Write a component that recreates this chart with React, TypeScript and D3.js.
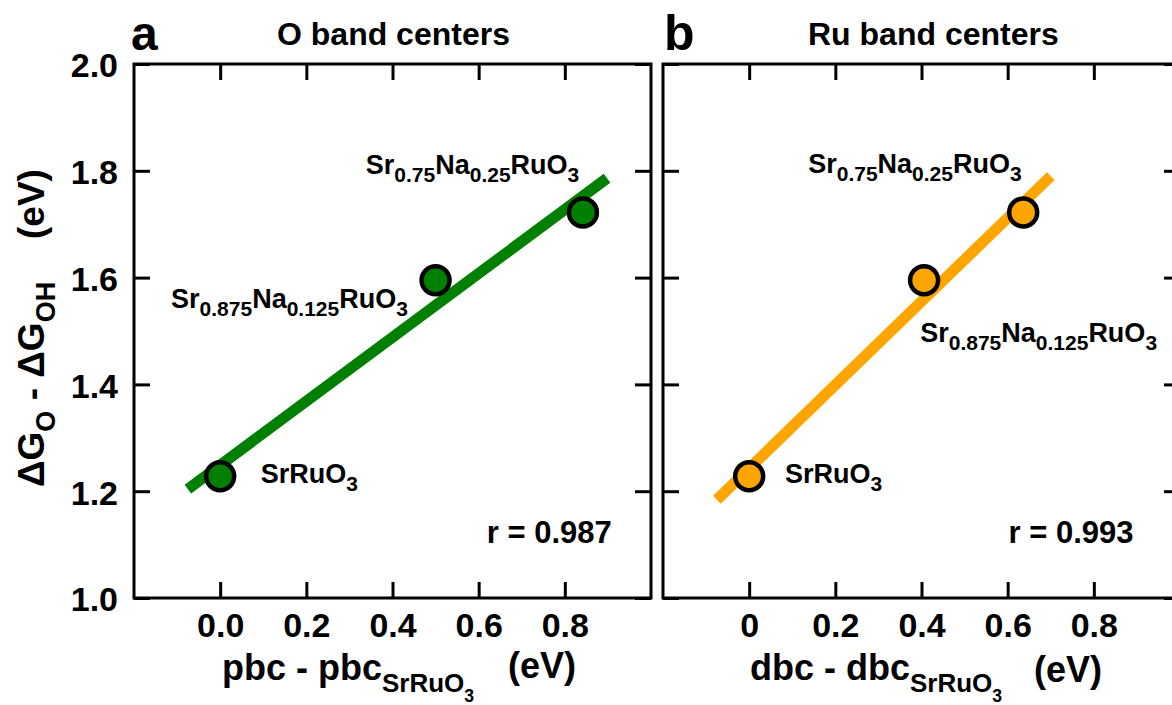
import { useEffect, useRef } from "react";
import * as d3 from "d3";

// shared axes
const xTicks = [0, 0.2, 0.4, 0.6, 0.8];
const xTickLabelsA = ["0.0", "0.2", "0.4", "0.6", "0.8"];
const xTickLabelsB = ["0", "0.2", "0.4", "0.6", "0.8"];
const yTicks = [1.0, 1.2, 1.4, 1.6, 1.8, 2.0];
const yTickLabels = ["1.0", "1.2", "1.4", "1.6", "1.8", "2.0"];

// dG_O - dG_OH for SrRuO3, Sr0.875Na0.125RuO3, Sr0.75Na0.25RuO3
const dG = [1.228, 1.595, 1.722];

// panel a: O p-band centers
const oX = [0, 0.5, 0.842];
const oFitX = [-0.075, 0.898];
const oFitY = [1.204, 1.786];

// panel b: Ru d-band centers
const ruX = [0, 0.406, 0.636];
const ruFitX = [-0.075, 0.7];
const ruFitY = [1.184, 1.79];

const FONT = "'Liberation Sans', Arial, Helvetica, sans-serif";

type Part = [string, number];

const App = () => {
  const ref = useRef<SVGSVGElement>(null);

  useEffect(() => {
    draw();
  }, []);

  const draw = () => {
    const width = 1172;
    const height = 705;
    const top = 64;
    const bottom = 598;
    const panelW = 517;

    const svg = d3.select(ref.current).attr("width", width).attr("height", height);
    svg.selectAll("*").remove();

    const y = d3.scaleLinear().domain([1.0, 2.0]).range([bottom, top]);

    // text with sub / subsub levels
    const rich = (
      g: any,
      x: number,
      yy: number,
      parts: Part[],
      size: number,
      subSize: number,
      subShift: number,
      transform?: string
    ) => {
      const t = g
        .append("text")
        .attr("x", x)
        .attr("y", yy)
        .attr("font-family", FONT)
        .attr("font-weight", "bold")
        .attr("font-size", size);
      if (transform) t.attr("transform", transform);
      let cur = 0;
      parts.forEach(([s, lvl]) => {
        const off = lvl === 0 ? 0 : lvl === 1 ? subShift : subShift * 1.8;
        const fs = lvl === 0 ? size : lvl === 1 ? subSize : subSize * 0.68;
        t.append("tspan")
          .attr("dy", off - cur)
          .attr("font-size", fs)
          .text(s);
        cur = off;
      });
      return t;
    };

    const panel = (
      left: number,
      xs: number[],
      fitX: number[],
      fitY: number[],
      color: string,
      xLabels: string[],
      showY: boolean
    ) => {
      const x = d3.scaleLinear().domain([-0.2, 1.0]).range([left, left + panelW]);
      const g = svg.append("g");

      const style = (ax: any) => {
        ax.select(".domain").remove();
        ax.selectAll("line").attr("stroke", "#000").attr("stroke-width", 3);
        ax.selectAll("text")
          .attr("font-family", FONT)
          .attr("font-weight", "bold")
          .attr("font-size", 34)
          .attr("fill", "#000");
      };

      g.append("g")
        .attr("transform", `translate(0,${bottom})`)
        .call(
          d3.axisBottom(x).tickValues(xTicks).tickSize(-16).tickPadding(15)
            .tickFormat((_d, i) => xLabels[i])
        )
        .call(style);
      g.append("g")
        .attr("transform", `translate(0,${top})`)
        .call(d3.axisTop(x).tickValues(xTicks).tickSize(-16).tickFormat(() => ""))
        .call(style);
      const yl = g
        .append("g")
        .attr("transform", `translate(${left},0)`)
        .call(
          d3.axisLeft(y).tickValues(yTicks).tickSize(-16).tickPadding(16)
            .tickFormat((_d, i) => (showY ? yTickLabels[i] : ""))
        )
        .call(style);
      yl.selectAll("text").attr("dy", "0.38em");
      g.append("g")
        .attr("transform", `translate(${left + panelW},0)`)
        .call(d3.axisRight(y).tickValues(yTicks).tickSize(-16).tickFormat(() => ""))
        .call(style);

      g.append("rect")
        .attr("x", left)
        .attr("y", top)
        .attr("width", panelW)
        .attr("height", bottom - top)
        .attr("fill", "none")
        .attr("stroke", "#000")
        .attr("stroke-width", 3);

      const line = d3
        .line<number>()
        .x((d) => x(d))
        .y((_d, i) => y(fitY[i]));
      g.append("path")
        .attr("d", line(fitX))
        .attr("fill", "none")
        .attr("stroke", color)
        .attr("stroke-width", 11);

      g.append("g")
        .selectAll("circle")
        .data(xs)
        .join("circle")
        .attr("cx", (d) => x(d))
        .attr("cy", (_d, i) => y(dG[i]))
        .attr("r", 14)
        .attr("fill", color)
        .attr("stroke", "#000")
        .attr("stroke-width", 4.5);

      return { g, x };
    };

    const a = panel(134, oX, oFitX, oFitY, "#008000", xTickLabelsA, true);
    const b = panel(663, ruX, ruFitX, ruFitY, "#FFA500", xTickLabelsB, false);

    const s1: Part[] = [["SrRuO", 0], ["3", 1]];
    const s2: Part[] = [["Sr", 0], ["0.875", 1], ["Na", 0], ["0.125", 1], ["RuO", 0], ["3", 1]];
    const s3: Part[] = [["Sr", 0], ["0.75", 1], ["Na", 0], ["0.25", 1], ["RuO", 0], ["3", 1]];

    // point labels, panel a
    rich(a.g, a.x(0.094), y(1.215), s1, 27, 21, 8);
    rich(a.g, a.x(-0.114), y(1.543), s2, 27, 21, 8);
    rich(a.g, a.x(0.338), y(1.794), s3, 27, 21, 8);
    // point labels, panel b
    rich(b.g, b.x(0.083), y(1.215), s1, 27, 21, 8);
    rich(b.g, b.x(0.397), y(1.479), s2, 27, 21, 8);
    rich(b.g, b.x(0.137), y(1.796), s3, 27, 21, 8);

    // correlation
    rich(a.g, a.x(0.909), y(1.103), [["r = 0.987", 0]], 31, 20, 8).attr("text-anchor", "end");
    rich(b.g, b.x(0.892), y(1.103), [["r = 0.993", 0]], 31, 20, 8).attr("text-anchor", "end");

    // panel letters & titles
    rich(svg, 131, 50, [["a", 0]], 48, 30, 10);
    rich(svg, 664, 50, [["b", 0]], 50, 30, 10);
    rich(svg, 277, 45, [["O band centers", 0]], 32, 20, 10);
    rich(svg, 808, 45, [["Ru band centers", 0]], 32, 20, 10);

    // x titles
    rich(svg, 222, 680, [["pbc - pbc", 0], ["SrRuO", 1], ["3", 2]], 36, 26, 12);
    rich(svg, 508, 678, [["(eV)", 0]], 36, 26, 12);
    rich(svg, 750, 680, [["dbc - dbc", 0], ["SrRuO", 1], ["3", 2]], 36, 26, 12);
    rich(svg, 1034, 682, [["(eV)", 0]], 36, 26, 12);

    // y title
    rich(
      svg,
      0,
      0,
      [["\u0394G", 0], ["O", 1], [" - \u0394G", 0], ["OH", 1]],
      37,
      27,
      11,
      "translate(44,487) rotate(-90)"
    );
    rich(svg, 0, 0, [["(eV)", 0]], 37, 27, 11, "translate(44,239) rotate(-90)");
  };

  return (
    <svg
      ref={ref}
      style={{ position: "absolute", left: 0, top: 0, background: "#fff" }}
    ></svg>
  );
};

export default App;
